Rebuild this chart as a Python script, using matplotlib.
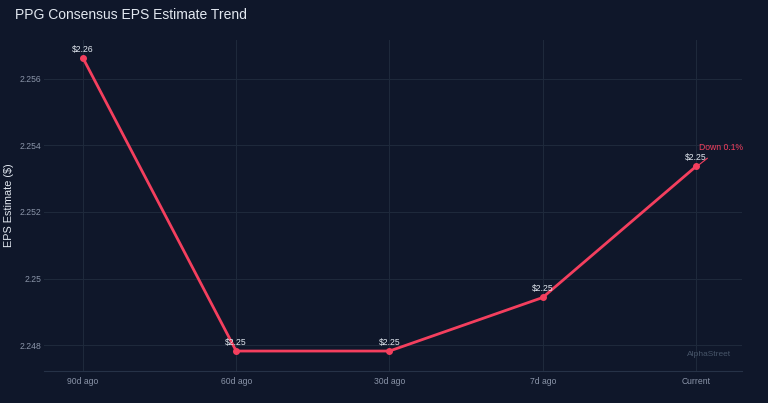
import matplotlib.pyplot as plt

# data
periods = ["90d ago", "60d ago", "30d ago", "7d ago", "Current"]
eps = [2.25663, 2.24782, 2.24782, 2.24943, 2.25337]
point_labels = ["$2.26", "$2.25", "$2.25", "$2.25", "$2.25"]
yticks = [2.248, 2.25, 2.252, 2.254, 2.256]
ytick_labels = ["2.248", "2.25", "2.252", "2.254", "2.256"]

bg = "#0f172a"
line_color = "#f43f5e"
grid_color = "#1e293b"
tick_color = "#8a94a8"

plt.rcParams["font.family"] = ["Liberation Sans", "DejaVu Sans"]

fig = plt.figure(figsize=(7.68, 4.03), dpi=100, facecolor=bg)
ax = fig.add_axes([44 / 768, 1 - 371 / 403, (742 - 44) / 768, (371 - 40) / 403])
ax.set_facecolor(bg)

x = list(range(len(periods)))
ax.plot(x, eps, color=line_color, linewidth=2, marker="o", markersize=4, zorder=3)

for xi, yi, lab in zip(x, eps, point_labels):
    ax.annotate(lab.replace("$", r"\$"), (xi, yi), xytext=(0, 3), textcoords="offset points",
                ha="center", va="bottom", fontsize=6.2, color="#e2e8f0")

# change annotation on last point
ax.annotate("Down 0.1%", xy=(x[-1] + 0.02, eps[-1] + 0.00005), xytext=(x[-1] + 0.163, eps[-1] + 0.00057),
            ha="center", va="center", fontsize=6.2, color=line_color,
            arrowprops=dict(arrowstyle="-", color=line_color, lw=0.8, shrinkA=4, shrinkB=0))

ax.set_xlim(-0.254, 4.3)
ax.set_ylim(2.24722, 2.25717)
ax.set_xticks(x)
ax.set_xticklabels(periods)
ax.set_yticks(yticks)
ax.set_yticklabels(ytick_labels)
ax.tick_params(colors=tick_color, labelsize=6.2, length=0)
ax.tick_params(axis="x", pad=4)
ax.tick_params(axis="y", pad=2)
ax.grid(True, color=grid_color, linewidth=0.8)
ax.set_axisbelow(True)
for side in ["top", "right", "left"]:
    ax.spines[side].set_visible(False)
ax.spines["bottom"].set_color("#263247")

fig.text(9 / 768, 1 - 205 / 403, "EPS Estimate ($)", color="#e2e8f0", fontsize=7.8,
         rotation=90, ha="center", va="center")
fig.text(15 / 768, 1 - 15 / 403, "PPG Consensus EPS Estimate Trend", color="#e2e8f0",
         fontsize=10, ha="left", va="center")
ax.text(0.985, 0.04, "AlphaStreet", transform=ax.transAxes, ha="right", va="bottom",
        fontsize=6, color="#475569")

fig.savefig("out.png", dpi=100, facecolor=bg)
